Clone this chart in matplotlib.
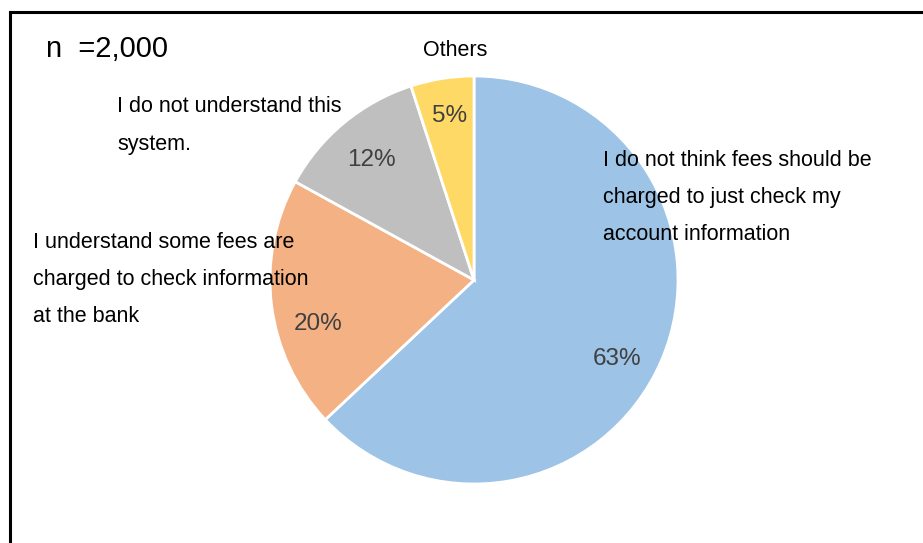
import matplotlib
matplotlib.use("Agg")
import matplotlib.pyplot as plt
from matplotlib.lines import Line2D

plt.rcParams['font.family'] = ['Liberation Sans', 'DejaVu Sans']

# Survey responses (share of respondents, %)
categories = [
    "I do not think fees should be\ncharged to just check my\naccount information",
    "I understand some fees are\ncharged to check information\nat the bank",
    "I do not understand this\nsystem.",
    "Others",
]
shares = [63, 20, 12, 5]
colors = ["#9DC3E6", "#F4B183", "#BFBFBF", "#FFD966"]
sample_note = "n  =2,000"

W, H = 923, 543
fig = plt.figure(figsize=(W / 100, H / 100), dpi=100)
ax = fig.add_axes([0, 0, 1, 1])

wedges, _, autotexts = ax.pie(
    shares,
    colors=colors,
    startangle=90,
    counterclock=False,
    center=(474, H - 280),
    radius=204,
    autopct=lambda p: f"{p:.0f}%",
    pctdistance=0.79,
    wedgeprops=dict(edgecolor="white", linewidth=2.0),
    textprops=dict(fontsize=17.5, color="#404040"),
)
# small nudges of the percentage labels inside their wedges (pixels)
pct_nudge = [(-5, -15), (4, -24), (0, -4), (1, 5)]
for t, (dx, dy) in zip(autotexts, pct_nudge):
    x, y = t.get_position()
    t.set_position((x + dx, y + dy))

ax.set_xlim(0, W)
ax.set_ylim(0, H)
ax.set_aspect("equal")
ax.axis("off")

# Category labels, one text per line for fixed line pitch
label_pos = [
    (603, 160, "left"),
    (33, 242, "left"),
    (117, 107, "left"),
    (455, 50, "center"),
]
pitch = 37.5
for text, (x, y, ha) in zip(categories, label_pos):
    for i, line in enumerate(text.split("\n")):
        ax.text(x, H - (y + i * pitch), line, ha=ha, va="center",
                fontsize=15.5, color="#000000")

ax.text(46, H - 49, sample_note, ha="left", va="center",
        fontsize=21, color="#000000")

# Outer frame (top and left edges)
lw = 2.2
fig.add_artist(Line2D([10 / W, 1.0], [1 - 12 / H, 1 - 12 / H],
                      transform=fig.transFigure, color="black", linewidth=lw))
fig.add_artist(Line2D([10 / W, 10 / W], [1 - 12 / H, 0.0],
                      transform=fig.transFigure, color="black", linewidth=lw))

fig.savefig("out.png", dpi=100, facecolor="white")
